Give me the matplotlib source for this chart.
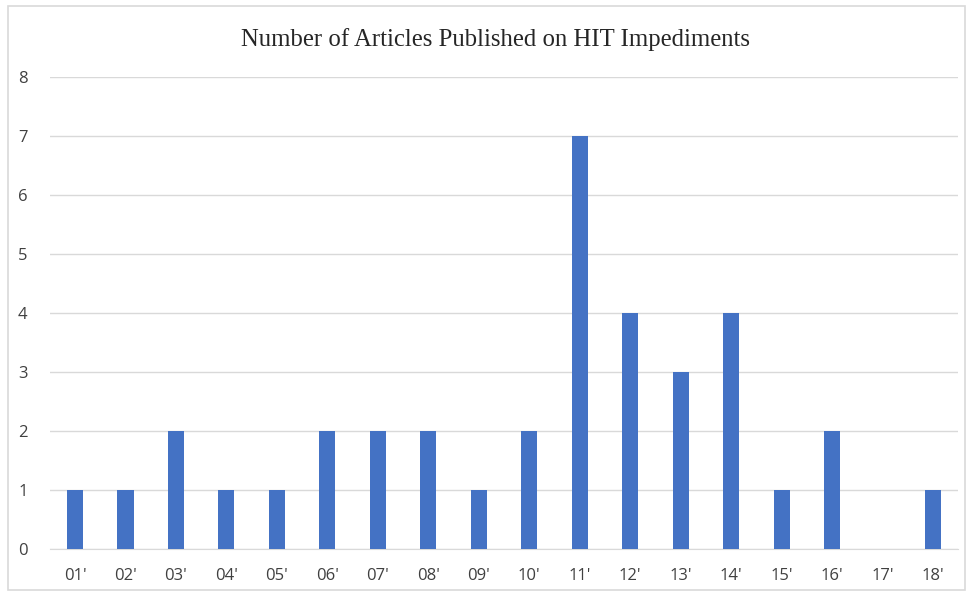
import matplotlib
matplotlib.use("Agg")
import matplotlib.pyplot as plt
from matplotlib.patches import Rectangle

years = ["01'", "02'", "03'", "04'", "05'", "06'", "07'", "08'", "09'", "10'",
         "11'", "12'", "13'", "14'", "15'", "16'", "17'", "18'"]
counts = [1, 1, 2, 1, 1, 2, 2, 2, 1, 2, 7, 4, 3, 4, 1, 2, 0, 1]
yticks = [0, 1, 2, 3, 4, 5, 6, 7, 8]
title = "Number of Articles Published on HIT Impediments"

fig = plt.figure(figsize=(9.69, 5.92), dpi=100)
fig.patch.set_facecolor("white")
fig.patches.append(Rectangle((8/969, 1-590/592), 957/969, 584/592, transform=fig.transFigure,
                             fill=False, edgecolor="#d9d9d9", linewidth=1.2))
ax = fig.add_axes([0.0513, 0.0726, 0.9377, 0.7974])
x = range(len(years))
ax.bar(x, counts, width=0.32, color="#4472C4", zorder=3)
ax.set_xlim(-0.5, len(years) - 0.5)
ax.set_ylim(0, 8)
ax.set_yticks(yticks)
ax.set_xticks(list(x))
ax.set_xticklabels(years)
ax.grid(axis="y", color="#d9d9d9", linewidth=1, zorder=0)
for s in ["top", "right", "left"]:
    ax.spines[s].set_visible(False)
ax.spines["bottom"].set_color("#d9d9d9")
ax.tick_params(axis="both", length=0, labelsize=12, labelcolor="#404040")
ax.tick_params(axis="x", pad=14)
ax.tick_params(axis="y", pad=16)
for lbl in ax.get_xticklabels() + ax.get_yticklabels():
    lbl.set_fontfamily("Open Sans")
fig.text(0.511, 1 - 40/592, title, ha="center", va="center", fontsize=17.8,
         family="Liberation Serif", color="#262626")
fig.savefig("out.png", dpi=100)
